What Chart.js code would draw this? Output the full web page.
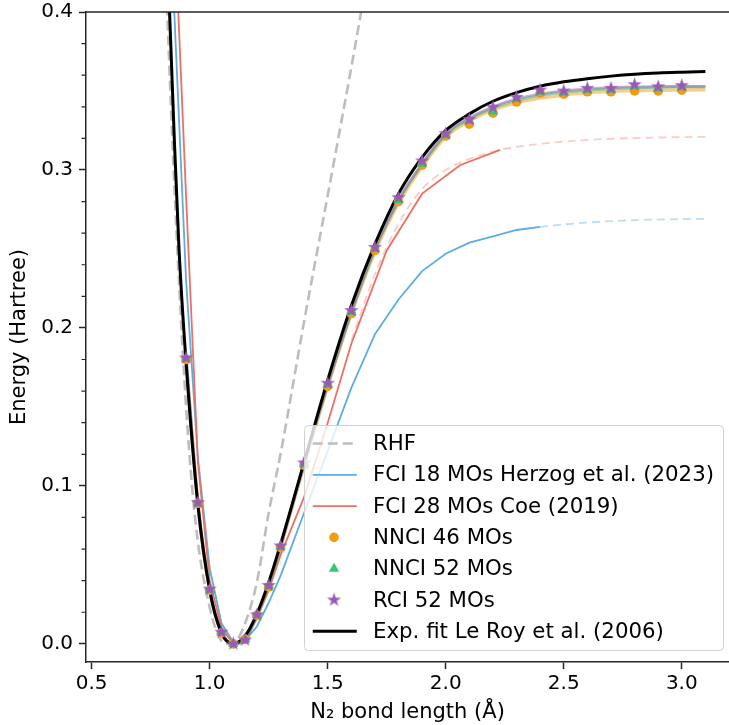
<!DOCTYPE html>
<html lang="en">

<head>
    <meta charset="UTF-8">
    <meta name="viewport" content="width=device-width, initial-scale=1.0">
    <title>Curva N2</title>
    <script src="https://cdn.jsdelivr.net/npm/chart.js@4.4.1/dist/chart.umd.min.js"></script>
    <style>
        html, body { margin: 0; padding: 0; background: #fff; }
    </style>
</head>

<body>
    <canvas id="graficoN2" width="729" height="725"></canvas>
</body>

</html>

<script>

// ---------------- dados ----------------
const xTicks = [0.5, 1.0, 1.5, 2.0, 2.5, 3.0];
const yTicks = [0.0, 0.1, 0.2, 0.3, 0.4];
const yMinorTicks = [0.02, 0.04, 0.06, 0.08, 0.12, 0.14, 0.16, 0.18, 0.22, 0.24, 0.26, 0.28, 0.32, 0.34, 0.36, 0.38];

// RHF (tracejado cinza)
const rhfX = [0.80, 0.82, 0.853, 0.90, 0.94, 1.00, 1.05, 1.08, 1.11, 1.15, 1.20, 1.25, 1.30, 1.40, 1.50, 1.60, 1.70];
const rhfE = [0.48, 0.40, 0.281, 0.150, 0.077, 0.023, 0.002, 0.000, 0.0015, 0.013, 0.039, 0.083, 0.120, 0.204, 0.284, 0.365, 0.45];

// FCI 18 MOs (azul) + extrapolacao
const fci18X = [0.80, 0.85, 0.90, 0.95, 1.00, 1.05, 1.10, 1.15, 1.20, 1.25, 1.30, 1.40, 1.50, 1.60, 1.70, 1.80, 1.90, 2.00, 2.10, 2.20, 2.30, 2.40];
const fci18E = [0.58, 0.40, 0.230, 0.118, 0.048, 0.013, 0.001, 0.002, 0.011, 0.026, 0.043, 0.083, 0.122, 0.162, 0.196, 0.218, 0.236, 0.247, 0.254, 0.258, 0.262, 0.264];
const fci18ExtX = [2.40, 2.50, 2.60, 2.70, 2.80, 2.90, 3.00, 3.10];
const fci18ExtE = [0.264, 0.2655, 0.2667, 0.2676, 0.2682, 0.2686, 0.2689, 0.269];

// FCI 28 MOs (vermelho) + ajuste
const fci28X = [0.80, 0.85, 0.90, 0.95, 1.00, 1.05, 1.10, 1.15, 1.20, 1.25, 1.30, 1.40, 1.50, 1.60, 1.75, 1.90, 2.06, 2.23];
const fci28E = [0.64, 0.46, 0.283, 0.115, 0.040, 0.010, 0.0, 0.003, 0.016, 0.034, 0.056, 0.093, 0.140, 0.190, 0.249, 0.285, 0.303, 0.3127];
const fci28AjX = [1.60, 1.70, 1.80, 1.90, 2.00, 2.10, 2.23, 2.40, 2.60, 2.80, 3.00, 3.10];
const fci28AjE = [0.192, 0.234, 0.266, 0.288, 0.300, 0.307, 0.3127, 0.3165, 0.319, 0.3202, 0.3208, 0.321];

// pontos NNCI / RCI
const gridX = [0.90, 0.95, 1.00, 1.05, 1.10, 1.15, 1.20, 1.25, 1.30, 1.40, 1.50, 1.60, 1.70, 1.80, 1.90, 2.00, 2.10, 2.20, 2.30, 2.40, 2.50, 2.60, 2.70, 2.80, 2.90, 3.00];
const nnci46E = [0.180, 0.089, 0.034, 0.007, 0.0, 0.003, 0.018, 0.036, 0.061, 0.113, 0.163, 0.209, 0.249, 0.280, 0.303, 0.3215, 0.329, 0.336, 0.343, 0.3486, 0.348, 0.3495, 0.3495, 0.350, 0.350, 0.3505];
const nnci52E = [0.1805, 0.089, 0.0343, 0.0072, 0.0, 0.0027, 0.0182, 0.0367, 0.0615, 0.114, 0.164, 0.210, 0.250, 0.281, 0.304, 0.322, 0.331, 0.337, 0.345, 0.3495, 0.349, 0.3507, 0.3508, 0.3528, 0.3518, 0.3524];
const rci52E = [0.181, 0.0894, 0.0346, 0.0074, 0.0, 0.0025, 0.0184, 0.037, 0.062, 0.1146, 0.165, 0.211, 0.251, 0.2825, 0.3057, 0.323, 0.332, 0.3397, 0.346, 0.3506, 0.350, 0.3517, 0.3517, 0.354, 0.3527, 0.3534];

// curvas suaves (ajuste) passando pelos pontos
const ajusteX = [0.90, 0.95, 1.00, 1.05, 1.10, 1.15, 1.20, 1.25, 1.30, 1.40, 1.50, 1.60, 1.70, 1.80, 1.90, 2.00, 2.10, 2.20, 2.30, 2.40, 2.50, 2.60, 2.70, 2.80, 2.90, 3.00, 3.10];
const ajuste46E = [0.180, 0.089, 0.034, 0.007, 0.0, 0.003, 0.018, 0.036, 0.061, 0.113, 0.163, 0.209, 0.248, 0.279, 0.302, 0.321, 0.331, 0.338, 0.3425, 0.3455, 0.3475, 0.349, 0.3498, 0.3503, 0.3505, 0.3506, 0.3507];
const ajuste52E = [0.1805, 0.089, 0.0343, 0.0072, 0.0, 0.0027, 0.0182, 0.0367, 0.0612, 0.1138, 0.1638, 0.2095, 0.2495, 0.2805, 0.3035, 0.3222, 0.3322, 0.3392, 0.3440, 0.3472, 0.3492, 0.3505, 0.3514, 0.3520, 0.3524, 0.3526, 0.3527];
const ajusteRciE = [0.181, 0.0894, 0.0346, 0.0074, 0.0, 0.0025, 0.0184, 0.037, 0.0615, 0.114, 0.164, 0.210, 0.250, 0.281, 0.304, 0.323, 0.333, 0.340, 0.345, 0.348, 0.350, 0.3512, 0.352, 0.3525, 0.3527, 0.3528, 0.3529];

// ajuste experimental Le Roy (preto)
const expX = [0.80, 0.83, 0.85, 0.87, 0.90, 0.95, 1.00, 1.05, 1.10, 1.15, 1.20, 1.25, 1.30, 1.40, 1.50, 1.60, 1.70, 1.80, 1.90, 2.00, 2.10, 2.20, 2.30, 2.40, 2.50, 2.60, 2.70, 2.80, 2.90, 3.00, 3.10];
const expE = [0.54, 0.40, 0.32, 0.25, 0.178, 0.088, 0.034, 0.007, 0.0, 0.005, 0.019, 0.039, 0.063, 0.115, 0.167, 0.214, 0.253, 0.285, 0.308, 0.325, 0.3355, 0.3435, 0.3490, 0.3530, 0.3558, 0.3578, 0.3594, 0.3606, 0.3614, 0.3619, 0.3623];

// ---------------- helpers ----------------
function pares(xs, ys) {
    return xs.map((x, i) => ({ x: x, y: ys[i] }));
}

// estrela cheia de 5 pontas (o 'star' do Chart.js nao e preenchido)
function estrela(cor, r) {
    const lado = Math.ceil(r * 2) + 2;
    const c = document.createElement('canvas');
    c.width = lado; c.height = lado;
    const g = c.getContext('2d');
    g.fillStyle = cor;
    g.beginPath();
    for (let i = 0; i < 10; i++) {
        const rr = i % 2 === 0 ? r : r * 0.382;
        const a = -Math.PI / 2 + i * Math.PI / 5;
        g.lineTo(lado / 2 + rr * Math.cos(a), lado / 2 + rr * Math.sin(a));
    }
    g.closePath();
    g.fill();
    return c;
}

const fonte = 'DejaVu Sans';
const tamTick = 20;
const tamTexto = 21;
const tamLegenda = 21.3;
const corEixo = '#262626';

const estrelaRoxa = estrela('#9b59b6', 7.5);

// ---------------- datasets ----------------
const dados = {
    datasets: [
        { label: 'RCI 52 MOs', data: pares(gridX, rci52E), showLine: false, pointStyle: estrelaRoxa, pointRadius: 7, backgroundColor: '#9b59b6', order: 0 },
        { label: 'NNCI 52 MOs', data: pares(gridX, nnci52E), showLine: false, pointStyle: 'triangle', pointRadius: 6, backgroundColor: '#2ecc71', borderColor: '#2ecc71', borderWidth: 0, order: 1 },
        { label: 'NNCI 46 MOs', data: pares(gridX, nnci46E), showLine: false, pointStyle: 'circle', pointRadius: 4.8, backgroundColor: '#f39c12', borderColor: '#f39c12', borderWidth: 0, order: 2 },
        { label: 'Exp. fit Le Roy et al. (2006)', data: pares(expX, expE), borderColor: '#000000', borderWidth: 3, pointRadius: 0, cubicInterpolationMode: 'monotone', order: 3 },
        { label: '', data: pares(ajusteX, ajusteRciE), borderColor: 'rgba(155,89,182,0.5)', borderWidth: 3, pointRadius: 0, cubicInterpolationMode: 'monotone', order: 4 },
        { label: '', data: pares(ajusteX, ajuste52E), borderColor: 'rgba(46,204,113,0.5)', borderWidth: 3, pointRadius: 0, cubicInterpolationMode: 'monotone', order: 5 },
        { label: '', data: pares(ajusteX, ajuste46E), borderColor: 'rgba(243,156,18,0.5)', borderWidth: 3.5, pointRadius: 0, cubicInterpolationMode: 'monotone', order: 6 },
        { label: 'FCI 28 MOs Coe (2019)', data: pares(fci28X, fci28E), borderColor: '#ec7063', borderWidth: 1.8, pointRadius: 0, tension: 0, order: 7 },
        { label: '', data: pares(fci28AjX, fci28AjE), borderColor: 'rgba(236,112,99,0.35)', borderWidth: 1.8, borderDash: [8, 5], pointRadius: 0, cubicInterpolationMode: 'monotone', order: 8 },
        { label: 'FCI 18 MOs Herzog et al. (2023)', data: pares(fci18X, fci18E), borderColor: '#5dade2', borderWidth: 1.8, pointRadius: 0, tension: 0, order: 9 },
        { label: '', data: pares(fci18ExtX, fci18ExtE), borderColor: 'rgba(93,173,226,0.4)', borderWidth: 1.8, borderDash: [8, 5], pointRadius: 0, cubicInterpolationMode: 'monotone', order: 10 },
        { label: 'RHF', data: pares(rhfX, rhfE), borderColor: '#bdbdbd', borderWidth: 2.6, borderDash: [10, 5], pointRadius: 0, cubicInterpolationMode: 'monotone', order: 11 }
    ]
};

// ordem da legenda, igual a figura
const legendaOrdem = ['RHF', 'FCI 18 MOs Herzog et al. (2023)', 'FCI 28 MOs Coe (2019)', 'NNCI 46 MOs', 'NNCI 52 MOs', 'RCI 52 MOs', 'Exp. fit Le Roy et al. (2006)'];

// legenda desenhada por cima das curvas, com fundo branco semi-transparente
const legendaPlugin = {
    id: 'legendaBox',
    afterDatasetsDraw(chart) {
        const ctx = chart.ctx;
        const area = chart.chartArea;
        ctx.save();
        ctx.font = tamLegenda + 'px "' + fonte + '"';
        let maior = 0;
        legendaOrdem.forEach(t => { maior = Math.max(maior, ctx.measureText(t).width); });
        const passo = 31.3;
        const largura = 69 + maior + 9;
        const altura = 225;
        const direita = area.right - 6;
        const baixo = area.bottom - 12;
        const esq = direita - largura;
        const topo = baixo - altura;

        ctx.beginPath();
        ctx.roundRect(esq + 0.5, topo + 0.5, largura, altura, 4);
        ctx.fillStyle = 'rgba(255,255,255,0.8)';
        ctx.fill();
        ctx.strokeStyle = '#d0d0d0';
        ctx.lineWidth = 1;
        ctx.stroke();

        legendaOrdem.forEach((texto, i) => {
            const ds = chart.data.datasets.find(d => d.label === texto);
            const cy = topo + 18.5 + i * passo;
            if (ds.showLine === false) {
                ctx.fillStyle = ds.backgroundColor;
                ctx.strokeStyle = ds.backgroundColor;
                Chart.helpers.drawPoint(ctx, {
                    pointStyle: ds.pointStyle,
                    radius: ds.pointRadius,
                    rotation: 0,
                    borderWidth: 0
                }, esq + 30, cy);
            } else {
                ctx.beginPath();
                ctx.setLineDash(ds.borderDash || []);
                ctx.strokeStyle = ds.borderColor;
                ctx.lineWidth = ds.borderWidth;
                ctx.moveTo(esq + 8.7, cy);
                ctx.lineTo(esq + 52.7, cy);
                ctx.stroke();
                ctx.setLineDash([]);
            }
            ctx.fillStyle = '#000';
            ctx.textBaseline = 'middle';
            ctx.textAlign = 'left';
            ctx.fillText(texto, esq + 69, cy + 1);
        });
        ctx.restore();
    }
};

// borda superior e ticks menores do eixo y
const molduraPlugin = {
    id: 'moldura',
    afterDraw(chart) {
        const ctx = chart.ctx;
        const area = chart.chartArea;
        const escalaY = chart.scales.y;
        ctx.save();
        ctx.strokeStyle = corEixo;
        ctx.lineWidth = 1.5;
        ctx.beginPath();
        ctx.moveTo(area.left - 0.75, area.top);
        ctx.lineTo(area.right, area.top);
        ctx.stroke();
        ctx.lineWidth = 1.2;
        ctx.beginPath();
        yMinorTicks.forEach(v => {
            const py = escalaY.getPixelForValue(v);
            ctx.moveTo(area.left - 4.5, py);
            ctx.lineTo(area.left, py);
        });
        ctx.stroke();
        ctx.restore();
    }
};

const config = {
    type: 'scatter',
    data: dados,
    options: {
        responsive: false,
        devicePixelRatio: 1,
        animation: false,
        showLine: true,
        layout: { autoPadding: false, padding: { left: 0, right: 0, top: 12, bottom: 0 } },
        plugins: {
            legend: { display: false },
            tooltip: { enabled: false }
        },
        scales: {
            x: {
                type: 'linear',
                min: 0.476,
                max: 3.2,
                afterBuildTicks: (escala) => { escala.ticks = xTicks.map(v => ({ value: v })); },
                afterFit: (escala) => { escala.height = 63; },
                grid: { drawOnChartArea: false, drawTicks: true, tickLength: 7, tickColor: corEixo, tickWidth: 1.5 },
                border: { display: true, color: corEixo, width: 1.5 },
                ticks: {
                    color: '#000', padding: 3, maxRotation: 0,
                    font: { family: fonte, size: tamTick },
                    callback: (v) => Number(v).toFixed(1)
                },
                title: {
                    display: true, text: 'N\u2082 bond length (\u00c5)', color: '#000',
                    font: { family: fonte, size: tamTexto }, padding: { top: 0, bottom: 0 }
                }
            },
            y: {
                type: 'linear',
                min: -0.0115,
                max: 0.4,
                afterBuildTicks: (escala) => { escala.ticks = yTicks.map(v => ({ value: v })); },
                afterFit: (escala) => { escala.width = 86; },
                grid: { drawOnChartArea: false, drawTicks: true, tickLength: 7, tickColor: corEixo, tickWidth: 1.5 },
                border: { display: true, color: corEixo, width: 1.5 },
                ticks: {
                    color: '#000', padding: 6,
                    font: { family: fonte, size: tamTick, lineHeight: 0.6 },
                    callback: (v) => Number(v).toFixed(1)
                },
                title: {
                    display: true, text: 'Energy (Hartree)', color: '#000',
                    font: { family: fonte, size: tamTexto }, padding: { top: 7, bottom: 0 }
                }
            }
        }
    },
    plugins: [legendaPlugin, molduraPlugin]
};

let grafico = new Chart(document.getElementById('graficoN2'), config);
</script>
